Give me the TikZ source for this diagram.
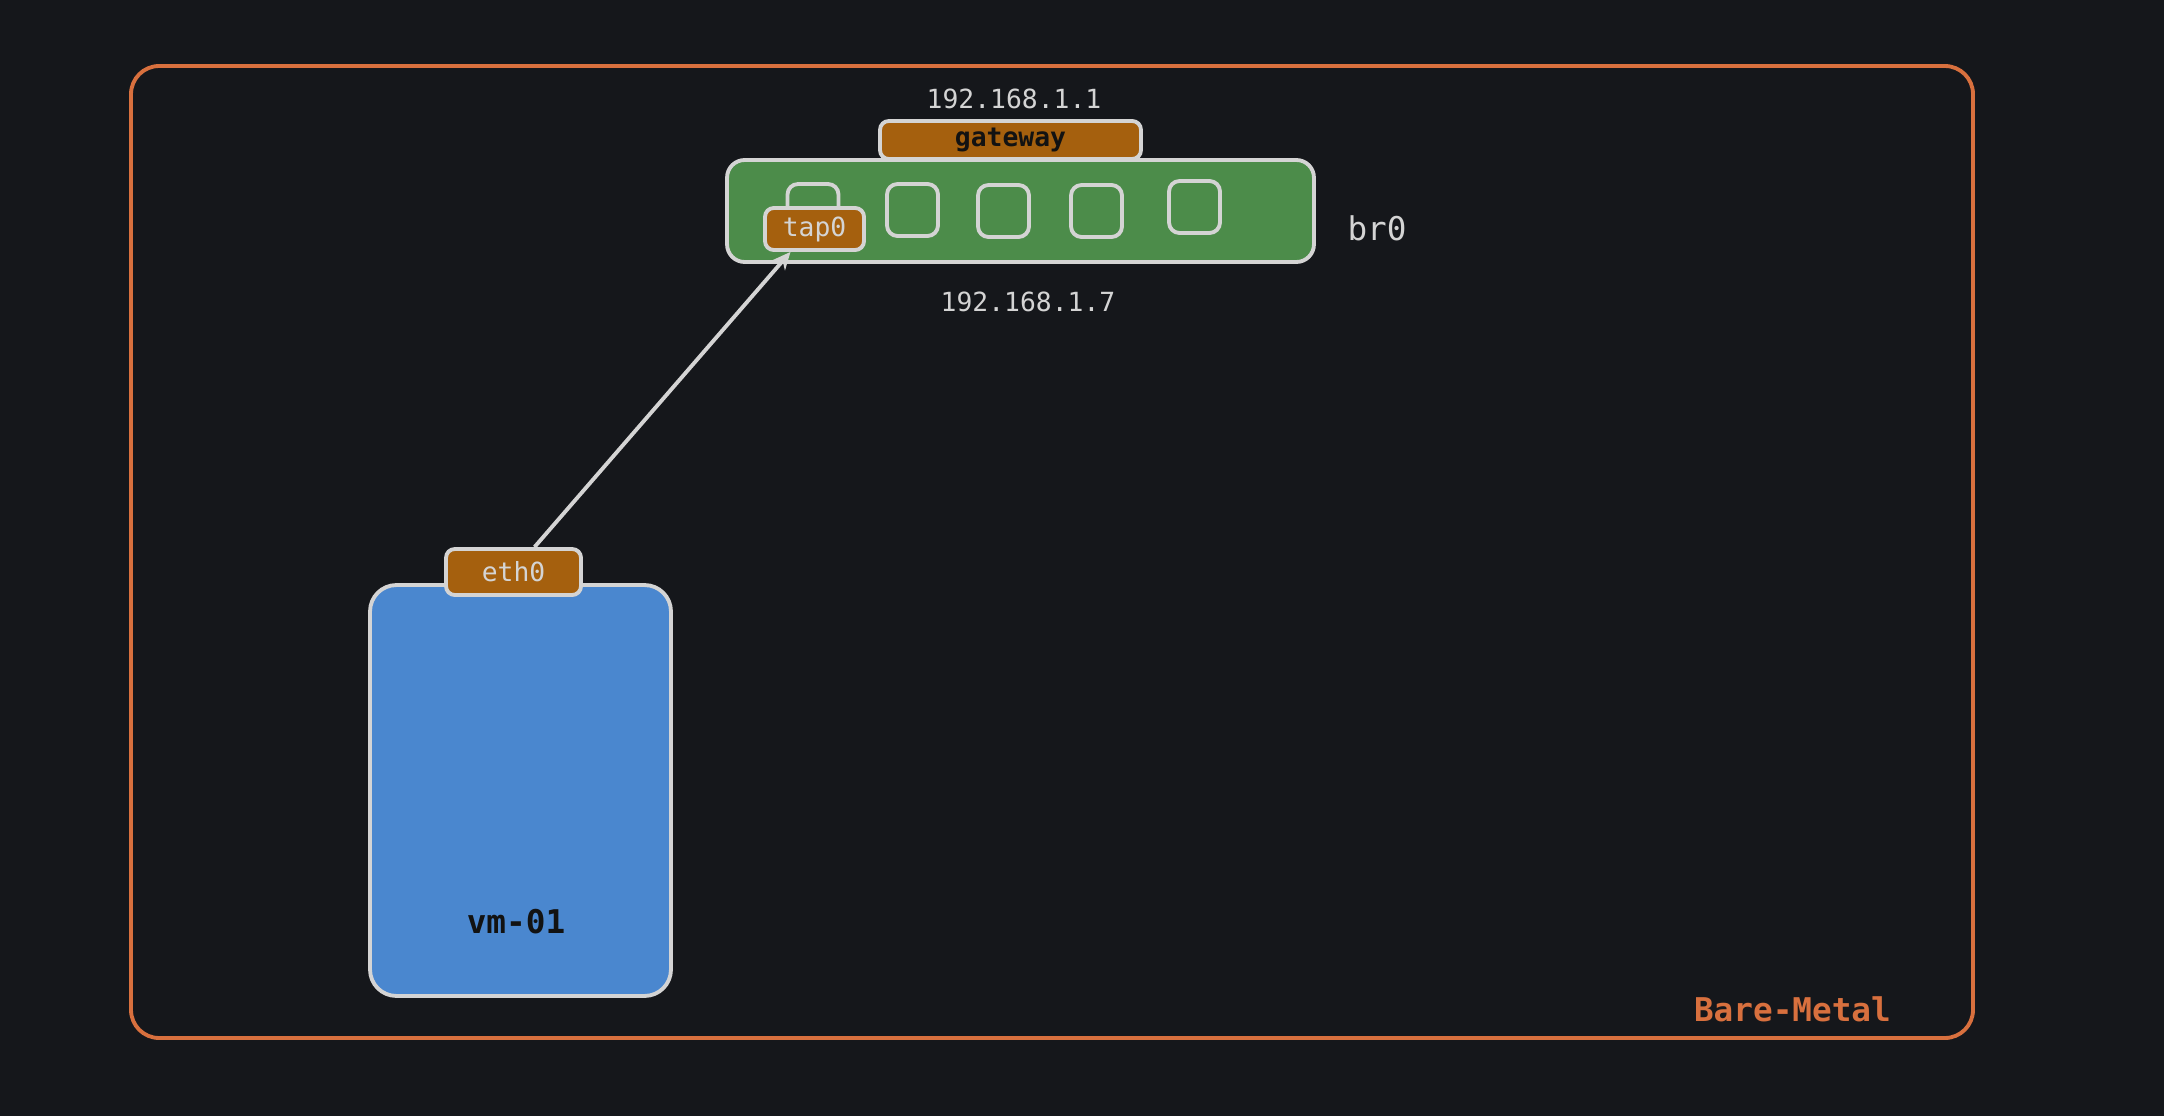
\documentclass[tikz,border=0pt]{standalone}
\usepackage{fontspec}
\setmonofont{DejaVu Sans Mono}
\usetikzlibrary{positioning,arrows.meta}
\definecolor{bgdark}{HTML}{15171B}
\definecolor{metal}{HTML}{D8703E}
\definecolor{bridgegreen}{HTML}{4C8C4A}
\definecolor{portbrown}{HTML}{A5600E}
\definecolor{vmblue}{HTML}{4A87CF}
\definecolor{edgegrey}{HTML}{D4D4D4}
\definecolor{inkdark}{HTML}{121212}

\tikzset{
  sketch/.style={draw=edgegrey, line width=2.2pt, inner sep=0pt},
  port/.style={sketch, fill=portbrown, rounded corners=5pt,
    font=\ttfamily\fontsize{15}{17}\selectfont},
  slot/.style={sketch, rounded corners=6pt,
    minimum width=1.02cm, minimum height=1.04cm},
  iplabel/.style={text=edgegrey, font=\ttfamily\fontsize{15}{17}\selectfont},
}

\begin{document}
\begin{tikzpicture}[x=0.02cm,y=-0.02cm]
\useasboundingbox (0,0) rectangle (2164,1116);
\fill[bgdark] (0,0) rectangle (2164,1116);
\draw[metal, line width=2.2pt, rounded corners=16pt] (131,66) rectangle (1973,1038);
\node[text=metal, anchor=east, font=\ttfamily\bfseries\fontsize{18.6}{21}\selectfont] (baremetal) at (1897,1009) {Bare-Metal};

% bridge
\node[sketch, fill=bridgegreen, rounded corners=10pt, minimum width=11.74cm, minimum height=2.04cm] (br) at (1020.5,211) {};
\node[text=edgegrey, font=\ttfamily\fontsize{18.6}{21}\selectfont] (brname) at (1377,228) {br0};
\node[port, text=inkdark, minimum width=5.22cm, minimum height=0.76cm, font=\ttfamily\bfseries\fontsize{15}{17}\selectfont] (gateway) at (1010.5,140) {gateway};
\node[iplabel] (gwip) at (1014,99) {192.168.1.1};
\node[iplabel] (brip) at (1028,302) {192.168.1.7};
\node[slot] (slot1) at (813,210) {};
\node[slot] (slot2) at (912.5,210) {};
\node[slot] (slot3) at (1003.5,211) {};
\node[slot] (slot4) at (1096.5,211) {};
\node[slot] (slot5) at (1194.5,207) {};
\node[port, text=edgegrey, minimum width=1.98cm, minimum height=0.84cm] (tap) at (814.5,229) {tap0};

% vm
\node[sketch, fill=vmblue, rounded corners=15pt, minimum width=6.02cm, minimum height=8.22cm] (vm) at (520.5,790.5) {};
\node[text=inkdark, font=\ttfamily\bfseries\fontsize{18.6}{21}\selectfont] (vmname) at (516,922) {vm-01};
\node[port, text=edgegrey, minimum width=2.7cm, minimum height=0.92cm] (eth) at (513.5,572) {eth0};

\draw[edgegrey, line width=2.2pt, -{Stealth[length=10pt,width=9pt]}] ([xshift=0.42cm]eth.north) -- ([xshift=-0.48cm]tap.south);
\end{tikzpicture}
\end{document}
